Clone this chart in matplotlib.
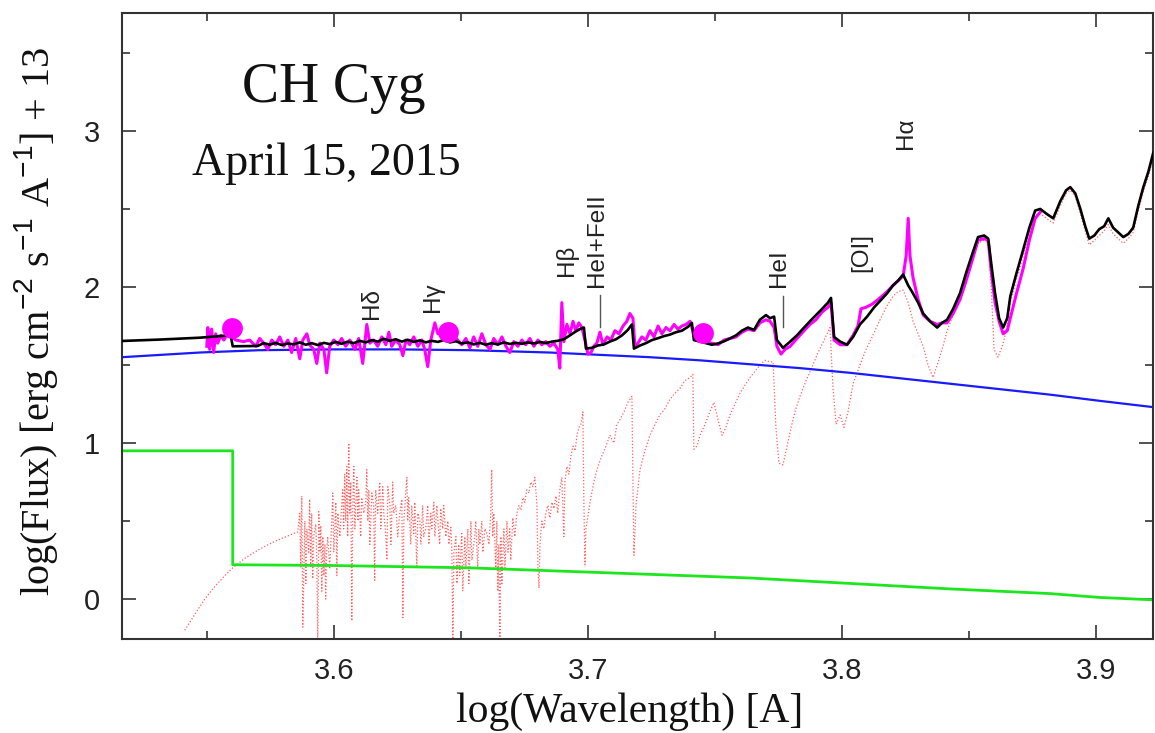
import matplotlib
matplotlib.use("Agg")
import matplotlib.pyplot as plt
from matplotlib.ticker import MultipleLocator

# ---------------- data: log(wavelength) vs log(flux)+13 ----------------
# hot component continuum
blue_x = [3.5164, 3.5471, 3.5707, 3.5995, 3.6259, 3.6535, 3.6850, 3.7047,
          3.7244, 3.7441, 3.7677, 3.7835, 3.8032, 3.8229, 3.8426, 3.8623,
          3.8820, 3.9017, 3.9226]
blue_y = [1.55, 1.58, 1.595, 1.60, 1.60, 1.595, 1.58, 1.565,
          1.55, 1.53, 1.50, 1.48, 1.45, 1.415, 1.38, 1.345,
          1.31, 1.27, 1.23]

# nebular continuum (Balmer jump)
green_x = [3.5164, 3.5601, 3.5601, 3.5995, 3.6535, 3.7047, 3.7638, 3.8032,
           3.8426, 3.8820, 3.9017, 3.9226]
green_y = [0.95, 0.95, 0.22, 0.215, 0.20, 0.17, 0.135, 0.10,
           0.065, 0.035, 0.01, -0.005]

# cool giant model spectrum
red_x = [3.5412, 3.5451, 3.5491, 3.5530, 3.5570, 3.5601, 3.5648, 3.5707, 3.5767,
         3.5826, 3.5857, 3.5865, 3.5869, 3.5873, 3.5877, 3.5885, 3.5889, 3.5893,
         3.5900, 3.5904, 3.5908, 3.5912, 3.5916, 3.5920, 3.5928, 3.5932, 3.5936,
         3.5940, 3.5944, 3.5948, 3.5952, 3.5956, 3.5960, 3.5964, 3.5967, 3.5971,
         3.5975, 3.5983, 3.5991, 3.5995, 3.5999, 3.6007, 3.6011, 3.6015, 3.6023,
         3.6030, 3.6034, 3.6038, 3.6042, 3.6046, 3.6050, 3.6054, 3.6058, 3.6062,
         3.6066, 3.6070, 3.6074, 3.6078, 3.6082, 3.6090, 3.6094, 3.6097, 3.6105,
         3.6109, 3.6117, 3.6125, 3.6129, 3.6133, 3.6137, 3.6141, 3.6149, 3.6156,
         3.6160, 3.6164, 3.6172, 3.6180, 3.6184, 3.6192, 3.6196, 3.6204, 3.6208,
         3.6212, 3.6220, 3.6224, 3.6231, 3.6235, 3.6243, 3.6251, 3.6259, 3.6267,
         3.6271, 3.6275, 3.6283, 3.6287, 3.6290, 3.6294, 3.6302, 3.6306, 3.6314,
         3.6318, 3.6326, 3.6330, 3.6338, 3.6342, 3.6349, 3.6353, 3.6361, 3.6369,
         3.6373, 3.6381, 3.6385, 3.6393, 3.6397, 3.6405, 3.6409, 3.6416, 3.6420,
         3.6428, 3.6432, 3.6440, 3.6448, 3.6452, 3.6460, 3.6464, 3.6468, 3.6472,
         3.6480, 3.6484, 3.6491, 3.6495, 3.6503, 3.6507, 3.6515, 3.6519, 3.6527,
         3.6531, 3.6539, 3.6543, 3.6550, 3.6554, 3.6558, 3.6566, 3.6570, 3.6574,
         3.6582, 3.6586, 3.6594, 3.6602, 3.6610, 3.6617, 3.6621, 3.6625, 3.6629,
         3.6637, 3.6641, 3.6645, 3.6649, 3.6653, 3.6657, 3.6661, 3.6669, 3.6673,
         3.6681, 3.6685, 3.6692, 3.6696, 3.6704, 3.6712, 3.6720, 3.6728, 3.6736,
         3.6744, 3.6751, 3.6759, 3.6767, 3.6775, 3.6783, 3.6791, 3.6799, 3.6803,
         3.6807, 3.6811, 3.6818, 3.6826, 3.6834, 3.6842, 3.6850, 3.6858, 3.6866,
         3.6874, 3.6881, 3.6889, 3.6897, 3.6905, 3.6909, 3.6917, 3.6925, 3.6933,
         3.6941, 3.6949, 3.6957, 3.6964, 3.6972, 3.6980, 3.6984, 3.6988, 3.6992,
         3.7008, 3.7023, 3.7039, 3.7055, 3.7071, 3.7086, 3.7102, 3.7114, 3.7126,
         3.7142, 3.7157, 3.7173, 3.7177, 3.7181, 3.7189, 3.7205, 3.7224, 3.7244,
         3.7264, 3.7283, 3.7303, 3.7323, 3.7343, 3.7362, 3.7382, 3.7402, 3.7413,
         3.7417, 3.7429, 3.7441, 3.7461, 3.7480, 3.7496, 3.7512, 3.7528, 3.7543,
         3.7559, 3.7579, 3.7599, 3.7618, 3.7638, 3.7658, 3.7677, 3.7697, 3.7717,
         3.7729, 3.7740, 3.7752, 3.7768, 3.7784, 3.7800, 3.7815, 3.7835, 3.7859,
         3.7883, 3.7906, 3.7930, 3.7953, 3.7965, 3.7977, 3.7993, 3.8008, 3.8024,
         3.8044, 3.8071, 3.8095, 3.8119, 3.8150, 3.8178, 3.8201, 3.8221, 3.8241,
         3.8261, 3.8280, 3.8300, 3.8320, 3.8339, 3.8359, 3.8379, 3.8398, 3.8414,
         3.8438, 3.8465, 3.8489, 3.8513, 3.8536, 3.8560, 3.8576, 3.8588, 3.8599,
         3.8615, 3.8635, 3.8651, 3.8663, 3.8686, 3.8714, 3.8738, 3.8761, 3.8781,
         3.8805, 3.8832, 3.8860, 3.8883, 3.8899, 3.8919, 3.8939, 3.8958, 3.8974,
         3.8994, 3.9013, 3.9033, 3.9049, 3.9068, 3.9088, 3.9108, 3.9128, 3.9147,
         3.9167, 3.9187, 3.9207, 3.9226]
red_y = [-0.20, -0.10, 0.00, 0.08, 0.15, 0.20, 0.26, 0.32, 0.37,
         0.41, 0.43, 0.55, 0.20, 0.66, -0.18, 0.50, 0.10, 0.45,
         0.30, 0.64, 0.20, 0.55, 0.13, 0.40, 0.48, 0.25, -0.30,
         0.56, 0.30, 0.47, 0.05, 0.40, 0.15, 0.35, 0.00, 0.30,
         0.40, 0.20, 0.50, 0.68, 0.30, 0.62, 0.15, 0.55, 0.40,
         0.60, 0.70, 0.45, 0.80, 0.50, 0.85, 0.40, 1.00, 0.55,
         0.75, -0.14, 0.60, 0.85, 0.45, 0.78, 0.50, 0.70, 0.40,
         0.65, 0.55, 0.62, 0.83, 0.50, 0.70, 0.35, 0.68, 0.60,
         0.12, 0.70, 0.55, 0.75, 0.45, 0.72, 0.55, 0.40, 0.25,
         0.72, 0.60, 0.35, 0.75, 0.55, 0.60, 0.40, 0.55, 0.64,
         -0.12, 0.50, 0.70, 0.78, 0.50, 0.65, 0.35, 0.60, 0.42,
         0.62, 0.20, 0.55, 0.50, 0.35, 0.60, 0.40, 0.45, 0.60,
         0.35, 0.55, 0.45, 0.62, 0.40, 0.60, 0.50, 0.35, 0.58,
         0.45, 0.60, 0.40, 0.50, 0.35, 0.46, 0.30, -0.30, 0.30,
         0.40, 0.10, 0.35, 0.15, 0.42, 0.05, 0.40, 0.20, 0.45,
         0.10, 0.50, 0.25, 0.35, 0.40, 0.50, 0.20, 0.45, 0.35,
         0.50, 0.30, 0.45, 0.42, 0.35, 0.55, 0.83, 0.40, 0.55,
         0.20, 0.50, 0.05, 0.35, -0.30, 0.40, 0.10, 0.45, 0.20,
         0.50, 0.30, 0.45, 0.25, 0.52, 0.40, 0.55, 0.60, 0.57,
         0.65, 0.62, 0.70, 0.68, 0.75, 0.72, 0.78, 0.60, 0.20,
         0.07, 0.35, 0.50, 0.45, 0.55, 0.60, 0.52, 0.62, 0.58,
         0.66, 0.55, 0.70, 0.78, 0.40, 0.75, 0.85, 0.80, 0.92,
         0.98, 0.95, 1.05, 1.10, 1.12, 1.20, 0.60, 0.22, 0.45,
         0.62, 0.75, 0.85, 0.92, 0.98, 1.05, 1.00, 1.12, 1.15,
         1.20, 1.26, 1.30, 0.75, 0.28, 0.60, 0.83, 0.95, 1.05,
         1.12, 1.18, 1.22, 1.28, 1.32, 1.35, 1.40, 1.42, 1.44,
         0.96, 0.98, 1.05, 1.12, 1.20, 1.26, 1.15, 1.05, 1.10,
         1.18, 1.25, 1.32, 1.37, 1.42, 1.46, 1.50, 1.53, 1.52,
         1.52, 1.10, 0.87, 0.86, 0.98, 1.10, 1.20, 1.30, 1.40,
         1.49, 1.58, 1.66, 1.74, 1.35, 1.12, 1.18, 1.10, 1.20,
         1.38, 1.50, 1.60, 1.68, 1.79, 1.88, 1.94, 1.97, 1.98,
         1.90, 1.78, 1.70, 1.62, 1.50, 1.42, 1.52, 1.62, 1.72,
         1.82, 1.94, 2.06, 2.18, 2.28, 2.30, 2.28, 2.00, 1.60,
         1.55, 1.64, 1.75, 1.90, 2.04, 2.20, 2.35, 2.46, 2.47,
         2.44, 2.41, 2.52, 2.60, 2.62, 2.58, 2.47, 2.36, 2.27,
         2.30, 2.33, 2.36, 2.40, 2.34, 2.31, 2.28, 2.31, 2.35,
         2.49, 2.61, 2.71, 2.83]

# observed spectrum
obs_x = [3.5499, 3.5503, 3.5510, 3.5518, 3.5526, 3.5534, 3.5542, 3.5554, 3.5566,
         3.5581, 3.5613, 3.5644, 3.5668, 3.5692, 3.5707, 3.5723, 3.5739, 3.5755,
         3.5770, 3.5786, 3.5802, 3.5818, 3.5833, 3.5849, 3.5865, 3.5877, 3.5893,
         3.5904, 3.5920, 3.5932, 3.5944, 3.5960, 3.5971, 3.5983, 3.5999, 3.6015,
         3.6030, 3.6046, 3.6062, 3.6082, 3.6097, 3.6113, 3.6129, 3.6141, 3.6156,
         3.6172, 3.6188, 3.6204, 3.6216, 3.6227, 3.6243, 3.6259, 3.6271, 3.6283,
         3.6298, 3.6314, 3.6330, 3.6346, 3.6357, 3.6369, 3.6381, 3.6397, 3.6409,
         3.6424, 3.6464, 3.6487, 3.6503, 3.6519, 3.6535, 3.6550, 3.6566, 3.6582,
         3.6598, 3.6614, 3.6629, 3.6645, 3.6661, 3.6677, 3.6692, 3.6708, 3.6724,
         3.6740, 3.6755, 3.6771, 3.6787, 3.6803, 3.6818, 3.6834, 3.6850, 3.6866,
         3.6881, 3.6889, 3.6897, 3.6905, 3.6917, 3.6929, 3.6941, 3.6952, 3.6964,
         3.6976, 3.6988, 3.7000, 3.7012, 3.7023, 3.7035, 3.7047, 3.7059, 3.7075,
         3.7090, 3.7106, 3.7122, 3.7138, 3.7153, 3.7165, 3.7177, 3.7185, 3.7197,
         3.7212, 3.7228, 3.7244, 3.7260, 3.7276, 3.7291, 3.7307, 3.7323, 3.7339,
         3.7354, 3.7370, 3.7386, 3.7402, 3.7413, 3.7425, 3.7488, 3.7512, 3.7536,
         3.7559, 3.7583, 3.7606, 3.7630, 3.7654, 3.7677, 3.7701, 3.7717, 3.7733,
         3.7744, 3.7760, 3.7776, 3.7796, 3.7823, 3.7851, 3.7874, 3.7898, 3.7922,
         3.7945, 3.7957, 3.7969, 3.7993, 3.8020, 3.8044, 3.8063, 3.8075, 3.8095,
         3.8119, 3.8150, 3.8178, 3.8201, 3.8221, 3.8241, 3.8253, 3.8261, 3.8268,
         3.8280, 3.8300, 3.8320, 3.8347, 3.8375, 3.8394, 3.8414, 3.8438, 3.8465,
         3.8489, 3.8513, 3.8536, 3.8560, 3.8576, 3.8588, 3.8603, 3.8619, 3.8635,
         3.8651, 3.8663, 3.8686, 3.8714, 3.8738, 3.8761, 3.8781]
obs_y = [1.62, 1.74, 1.60, 1.73, 1.58, 1.70, 1.64, 1.69, 1.66,
         1.70, 1.66, 1.65, 1.66, 1.62, 1.67, 1.64, 1.60, 1.66,
         1.63, 1.68, 1.62, 1.66, 1.58, 1.67, 1.54, 1.66, 1.70,
         1.63, 1.60, 1.51, 1.64, 1.60, 1.45, 1.62, 1.66, 1.63,
         1.67, 1.62, 1.66, 1.60, 1.67, 1.51, 1.76, 1.64, 1.66,
         1.62, 1.68, 1.63, 1.71, 1.62, 1.66, 1.63, 1.56, 1.66,
         1.63, 1.68, 1.62, 1.66, 1.60, 1.49, 1.66, 1.77, 1.70,
         1.72, 1.70, 1.66, 1.63, 1.67, 1.61, 1.68, 1.62, 1.70,
         1.63, 1.60, 1.67, 1.63, 1.68, 1.62, 1.58, 1.65, 1.62,
         1.66, 1.63, 1.67, 1.62, 1.66, 1.63, 1.65, 1.62, 1.64,
         1.60, 1.48, 1.90, 1.65, 1.76, 1.70, 1.78, 1.72, 1.77,
         1.74, 1.66, 1.57, 1.58, 1.62, 1.64, 1.71, 1.63, 1.68,
         1.66, 1.72, 1.70, 1.75, 1.78, 1.83, 1.80, 1.62, 1.64,
         1.68, 1.66, 1.72, 1.68, 1.75, 1.70, 1.74, 1.72, 1.76,
         1.73, 1.75, 1.76, 1.78, 1.72, 1.66, 1.64, 1.63, 1.66,
         1.67, 1.68, 1.71, 1.73, 1.72, 1.77, 1.79, 1.78, 1.74,
         1.62, 1.57, 1.60, 1.62, 1.67, 1.72, 1.76, 1.79, 1.84,
         1.87, 1.90, 1.66, 1.63, 1.63, 1.69, 1.75, 1.86, 1.87,
         1.89, 1.93, 1.97, 2.01, 2.04, 2.07, 2.20, 2.44, 2.20,
         2.06, 1.92, 1.82, 1.78, 1.76, 1.77, 1.77, 1.83, 1.92,
         2.04, 2.17, 2.30, 2.31, 2.30, 2.10, 1.90, 1.78, 1.70,
         1.72, 1.80, 1.95, 2.12, 2.30, 2.44, 2.48]

# UBV photometry
phot_x = [3.5597, 3.6448, 3.7453]
phot_y = [1.737, 1.71, 1.705]

# total model (hot + nebular + giant)
model_x = [3.5164, 3.5313, 3.5471, 3.5570, 3.5593, 3.5601, 3.5699, 3.5723, 3.5747,
           3.5770, 3.5794, 3.5818, 3.5841, 3.5865, 3.5889, 3.5912, 3.5936, 3.5960,
           3.5983, 3.6007, 3.6030, 3.6054, 3.6078, 3.6101, 3.6125, 3.6149, 3.6172,
           3.6196, 3.6220, 3.6243, 3.6267, 3.6290, 3.6314, 3.6338, 3.6361, 3.6385,
           3.6409, 3.6432, 3.6456, 3.6480, 3.6503, 3.6527, 3.6550, 3.6574, 3.6598,
           3.6621, 3.6645, 3.6669, 3.6692, 3.6716, 3.6740, 3.6763, 3.6787, 3.6811,
           3.6834, 3.6858, 3.6881, 3.6905, 3.6929, 3.6952, 3.6968, 3.6984, 3.6992,
           3.7015, 3.7039, 3.7063, 3.7086, 3.7110, 3.7134, 3.7157, 3.7173, 3.7181,
           3.7205, 3.7228, 3.7252, 3.7276, 3.7299, 3.7323, 3.7346, 3.7370, 3.7394,
           3.7409, 3.7417, 3.7441, 3.7465, 3.7488, 3.7512, 3.7536, 3.7559, 3.7583,
           3.7606, 3.7630, 3.7654, 3.7677, 3.7701, 3.7717, 3.7733, 3.7744, 3.7768,
           3.7796, 3.7823, 3.7851, 3.7874, 3.7898, 3.7922, 3.7945, 3.7957, 3.7969,
           3.7993, 3.8020, 3.8044, 3.8071, 3.8099, 3.8127, 3.8150, 3.8178, 3.8201,
           3.8221, 3.8241, 3.8261, 3.8276, 3.8300, 3.8320, 3.8347, 3.8375, 3.8394,
           3.8414, 3.8438, 3.8465, 3.8489, 3.8513, 3.8536, 3.8560, 3.8576, 3.8588,
           3.8603, 3.8619, 3.8635, 3.8651, 3.8663, 3.8686, 3.8714, 3.8738, 3.8761,
           3.8781, 3.8805, 3.8832, 3.8860, 3.8883, 3.8899, 3.8919, 3.8939, 3.8958,
           3.8974, 3.8994, 3.9013, 3.9033, 3.9049, 3.9068, 3.9088, 3.9108, 3.9128,
           3.9147, 3.9167, 3.9187, 3.9207, 3.9226]
model_y = [1.654, 1.663, 1.675, 1.688, 1.690, 1.620, 1.622, 1.640, 1.630,
           1.642, 1.628, 1.638, 1.632, 1.645, 1.630, 1.640, 1.628, 1.642,
           1.634, 1.648, 1.636, 1.650, 1.640, 1.655, 1.645, 1.660, 1.650,
           1.668, 1.655, 1.665, 1.650, 1.662, 1.648, 1.658, 1.645, 1.655,
           1.648, 1.660, 1.645, 1.652, 1.638, 1.645, 1.632, 1.642, 1.630,
           1.640, 1.632, 1.645, 1.635, 1.642, 1.636, 1.645, 1.638, 1.648,
           1.640, 1.650, 1.655, 1.665, 1.690, 1.715, 1.730, 1.740, 1.605,
           1.610, 1.625, 1.632, 1.650, 1.665, 1.690, 1.725, 1.760, 1.605,
           1.625, 1.640, 1.660, 1.672, 1.685, 1.695, 1.710, 1.720, 1.745,
           1.770, 1.660, 1.650, 1.640, 1.630, 1.638, 1.652, 1.670, 1.690,
           1.720, 1.740, 1.725, 1.790, 1.820, 1.800, 1.810, 1.660, 1.610,
           1.650, 1.690, 1.740, 1.780, 1.820, 1.860, 1.900, 1.930, 1.680,
           1.650, 1.630, 1.680, 1.760, 1.810, 1.870, 1.910, 1.960, 2.010,
           2.040, 2.080, 2.010, 1.970, 1.900, 1.830, 1.780, 1.740, 1.770,
           1.790, 1.860, 1.960, 2.090, 2.210, 2.320, 2.330, 2.310, 2.150,
           1.960, 1.800, 1.740, 1.800, 1.940, 2.080, 2.240, 2.380, 2.490,
           2.500, 2.470, 2.440, 2.550, 2.620, 2.640, 2.600, 2.500, 2.390,
           2.310, 2.330, 2.370, 2.390, 2.440, 2.380, 2.350, 2.320, 2.340,
           2.380, 2.520, 2.640, 2.740, 2.860]

# spectral line identifications
line_labels = ["H\u03b4", "H\u03b3", "H\u03b2", "HeI+FeII", "HeI", "[OI]", "H\u03b1"]
line_label_x = [3.6149, 3.6389, 3.6917, 3.7035, 3.7752, 3.8075, 3.8253]
line_label_y = [1.891, 1.936, 2.173, 2.301, 2.122, 2.224, 2.987]
marker_x = [3.7047, 3.7768]
marker_y0 = [1.744, 1.744]
marker_y1 = [1.949, 1.942]

x_ticks = [3.6, 3.7, 3.8, 3.9]
y_ticks = [0, 1, 2, 3]

# ---------------- figure ----------------
plt.rcParams["mathtext.fontset"] = "custom"
plt.rcParams["mathtext.rm"] = "Liberation Sans"
plt.rcParams["mathtext.it"] = "Liberation Sans:italic"

fig = plt.figure(figsize=(11.55, 7.33), dpi=100)
ax = fig.add_axes([122 / 1155, 94 / 733, 1031 / 1155, 626 / 733])

ax.plot(red_x, red_y, color="#ff2a2a", lw=0.9, ls=(0, (1.0, 1.6)), alpha=0.75, zorder=1)
ax.plot(blue_x, blue_y, color="#1a1aff", lw=1.6, zorder=2)
ax.plot(green_x, green_y, color="#1ee61e", lw=2.0, zorder=2)
ax.plot(obs_x, obs_y, color="#ff00ff", lw=2.2, zorder=3)
ax.plot(model_x, model_y, color="black", lw=1.9, zorder=4)
ax.plot(phot_x, phot_y, ls="none", marker="o", ms=15, color="#ff00ff",
        markeredgewidth=0, zorder=5)

for lab, lx, ly in zip(line_labels, line_label_x, line_label_y):
    ax.text(lx, ly, lab, rotation=90, ha="center", va="center",
            fontsize=17.5, family="Liberation Sans", color="#222222")
for mx, y0, y1 in zip(marker_x, marker_y0, marker_y1):
    ax.plot([mx, mx], [y0, y1], color="#555555", lw=1.0, zorder=4)

ax.text(3.5636, 3.186, "CH Cyg", family="Liberation Serif", fontsize=40,
        ha="left", va="baseline", color="#111111")
ax.text(3.5439, 2.718, "April 15, 2015", family="Liberation Serif", fontsize=33,
        ha="left", va="baseline", color="#111111")

ax.set_xlim(3.5165, 3.9225)
ax.set_ylim(-0.256, 3.756)
ax.set_xticks(x_ticks)
ax.set_yticks(y_ticks)
ax.xaxis.set_minor_locator(MultipleLocator(0.05))
ax.yaxis.set_minor_locator(MultipleLocator(0.5))
ax.tick_params(which="both", direction="in", top=True, right=True,
               color="#333333", width=1.2)
ax.tick_params(which="major", length=10)
ax.tick_params(which="minor", length=5.5)
ax.tick_params(axis="x", which="major", pad=13, labelsize=21)
ax.tick_params(axis="y", which="major", pad=16, labelsize=21)
for lab in ax.get_xticklabels() + ax.get_yticklabels():
    lab.set_family("Liberation Sans")
    lab.set_color("#222222")
for sp in ax.spines.values():
    sp.set_linewidth(1.5)
    sp.set_color("#333333")

fig.text(630 / 1155, 1 - 712 / 733, "log(Wavelength) [A]", family="Liberation Serif",
         fontsize=30, ha="center", va="center", color="#111111")
fig.text(36 / 1155, 1 - 322 / 733,
         "log(Flux) [erg cm$^{-2}$ s$^{-1}$ A$^{-1}$] + 13",
         family="Liberation Serif", fontsize=29, rotation=90,
         ha="center", va="center", color="#111111")

fig.savefig("out.png", dpi=100)
